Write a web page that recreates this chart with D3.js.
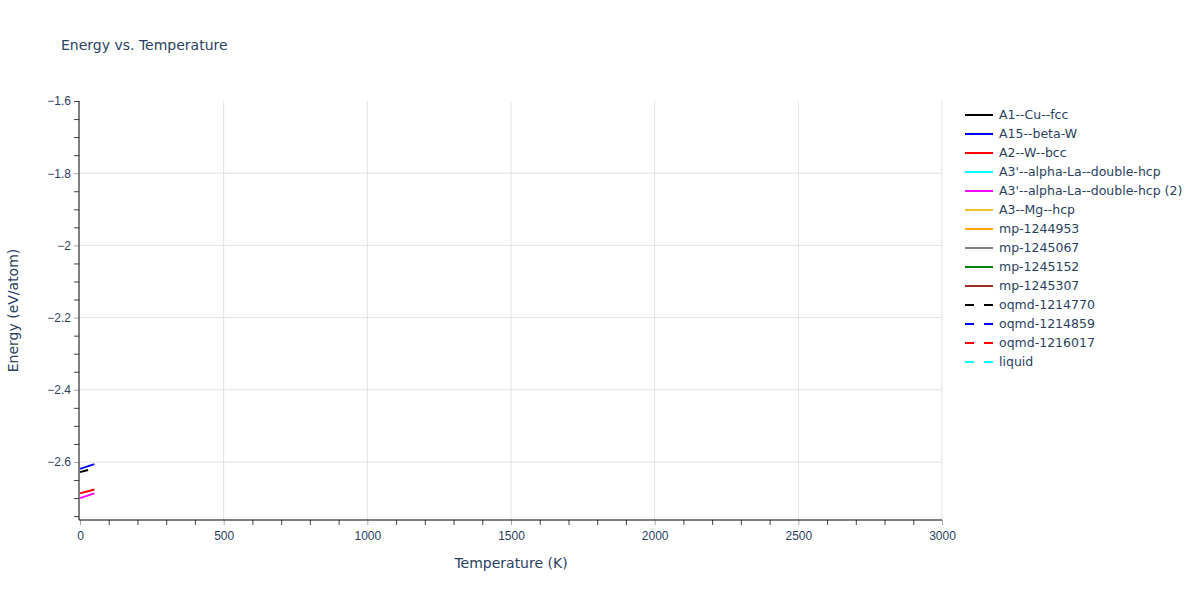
<!DOCTYPE html>
<html>
<head>
<meta charset="utf-8">
<script src="https://cdn.jsdelivr.net/npm/d3@7"></script>
<style>
  body { margin: 0; background: #fff; }
  text { font-family: "DejaVu Sans", Verdana, Arial, sans-serif; }
</style>
</head>
<body>
<script>
// series names as they appear in the legend
var names = ["A1--Cu--fcc", "A15--beta-W", "A2--W--bcc", "A3'--alpha-La--double-hcp",
    "A3'--alpha-La--double-hcp (2)", "A3--Mg--hcp", "mp-1244953", "mp-1245067",
    "mp-1245152", "mp-1245307", "oqmd-1214770", "oqmd-1214859", "oqmd-1216017", "liquid"];
var colors = ["black", "blue", "red", "cyan", "magenta", "#f0c030", "orange", "grey",
    "green", "brown", "black", "blue", "red", "cyan"];
var dashed = [false, false, false, false, false, false, false, false, false, false,
    true, true, true, true];

// temperature (K) and energy (eV/atom)
var temps = {
    "A1--Cu--fcc": [0, 28],
    "A15--beta-W": [0, 50],
    "A2--W--bcc": [0, 50],
    "A3'--alpha-La--double-hcp (2)": [0, 50]
};
var energies = {
    "A1--Cu--fcc": [-2.628, -2.622],
    "A15--beta-W": [-2.619, -2.606],
    "A2--W--bcc": [-2.687, -2.676],
    "A3'--alpha-La--double-hcp (2)": [-2.700, -2.687]
};

var xTicks = [0, 500, 1000, 1500, 2000, 2500, 3000];
var yTicks = [-1.6, -1.8, -2.0, -2.2, -2.4, -2.6];

var width = 1200, height = 600;
var mLeft = 80, mRight = 942, mTop = 101, mBottom = 520;

var svg = d3.select("body").append("svg")
    .attr("width", width)
    .attr("height", height);

var x = d3.scaleLinear().domain([0, 3000]).range([mLeft, mRight]);
var y = d3.scaleLinear().domain([-2.7607, -1.6]).range([mBottom, mTop]);

var fmt = function(d) { return d3.format("")(d).replace("-", "\u2212"); };

// grid
svg.append("g").selectAll("line")
    .data(xTicks.slice(1))
    .join("line")
    .attr("x1", function(d) { return x(d); }).attr("x2", function(d) { return x(d); })
    .attr("y1", mTop).attr("y2", mBottom)
    .style("stroke", "#e1e1e1").style("stroke-width", 1);
svg.append("g").selectAll("line")
    .data(yTicks.slice(1))
    .join("line")
    .attr("y1", function(d) { return y(d); }).attr("y2", function(d) { return y(d); })
    .attr("x1", mLeft).attr("x2", mRight)
    .style("stroke", "#e1e1e1").style("stroke-width", 1);

// lines
var line = d3.line()
    .x(function(d) { return x(d[0]); })
    .y(function(d) { return y(d[1]); });

names.forEach(function(n, i) {
    if (!temps[n]) return;
    var pts = temps[n].map(function(t, j) { return [t, energies[n][j]]; });
    svg.append("path")
        .datum(pts)
        .attr("d", line)
        .style("fill", "none")
        .style("stroke", colors[i])
        .style("stroke-width", 2)
        .style("stroke-dasharray", dashed[i] ? "9,10" : null);
});

// x axis
var xAxis = svg.append("g").attr("transform", "translate(0," + mBottom + ")");
xAxis.call(d3.axisBottom(x).tickValues(d3.range(0, 3001, 100)).tickSize(5).tickFormat(""));
xAxis.select(".domain").remove();
xAxis.selectAll(".tick line").style("stroke", function(d) { return d % 500 === 0 ? "#aaa" : "#444"; });
xAxis.append("g").call(d3.axisBottom(x).tickValues(xTicks).tickSize(0).tickPadding(11).tickFormat(fmt))
    .call(function(g) { g.select(".domain").remove(); })
    .selectAll("text").style("font-size", "12px").style("fill", "#2a3f5f").style("font-family", "inherit");
svg.append("line").attr("x1", mLeft - 1).attr("x2", mRight).attr("y1", mBottom).attr("y2", mBottom)
    .style("stroke", "#000").style("stroke-width", 1);

// y axis
var yAxis = svg.append("g").attr("transform", "translate(" + (mLeft - 1) + ",0)");
yAxis.call(d3.axisLeft(y).tickValues(d3.range(-2.75, -1.599, 0.05)).tickSize(5).tickFormat(""));
yAxis.select(".domain").remove();
yAxis.selectAll(".tick line").style("stroke", function(d) {
    var k = Math.round(-d * 100);
    return (k % 20 === 0 && k !== 160) ? "#aaa" : "#444"; });
yAxis.append("g").call(d3.axisLeft(y).tickValues(yTicks).tickSize(0).tickPadding(8).tickFormat(fmt))
    .call(function(g) { g.select(".domain").remove(); })
    .selectAll("text").style("font-size", "12px").style("fill", "#2a3f5f").style("font-family", "inherit");
svg.append("line").attr("x1", mLeft - 1).attr("x2", mLeft - 1).attr("y1", mTop).attr("y2", mBottom)
    .style("stroke", "#000").style("stroke-width", 1);

// titles
svg.append("text").attr("x", 61).attr("y", 50).text("Energy vs. Temperature")
    .style("font-size", "14px").style("fill", "#2a3f5f");
svg.append("text").attr("x", (mLeft + mRight) / 2).attr("y", 568).attr("text-anchor", "middle")
    .text("Temperature (K)").style("font-size", "14px").style("fill", "#2a3f5f");
svg.append("text").attr("transform", "translate(18," + (mTop + mBottom) / 2 + ") rotate(-90)")
    .attr("text-anchor", "middle").text("Energy (eV/atom)")
    .style("font-size", "14px").style("fill", "#2a3f5f");

// legend
var legend = svg.append("g").attr("transform", "translate(965,115)");
var rows = legend.selectAll("g").data(names).join("g")
    .attr("transform", function(d, i) { return "translate(0," + i * 19 + ")"; });
rows.append("line").attr("x1", 0).attr("x2", 28).attr("y1", 0).attr("y2", 0)
    .style("stroke", function(d, i) { return colors[i]; })
    .style("stroke-width", 2)
    .style("stroke-dasharray", function(d, i) { return dashed[i] ? "9,10" : null; });
rows.append("text").attr("x", 34).attr("y", 4).text(function(d) { return d; })
    .style("font-size", "12.5px").style("fill", "#2a3f5f");
</script>
</body>
</html>
